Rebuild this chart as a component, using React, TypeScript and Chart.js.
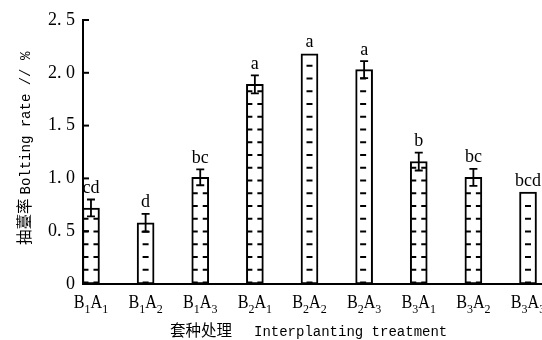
import React, { useEffect, useRef } from "react";
import { Chart, registerables } from "chart.js";

Chart.register(...registerables);

const categories = ["B1A1", "B1A2", "B1A3", "B2A1", "B2A2", "B2A3", "B3A1", "B3A2", "B3A3"];
const values = [0.72, 0.58, 1.01, 1.89, 2.18, 2.03, 1.16, 1.01, 0.87];
const errors = [0.08, 0.085, 0.075, 0.085, 0, 0.08, 0.085, 0.08, 0];
const letters = ["cd", "d", "bc", "a", "a", "a", "b", "bc", "bcd"];
const yTicks = [0, 0.5, 1.0, 1.5, 2.0, 2.5];
const hatchStyles = ["double", "center", "double", "double", "center", "left", "double", "double", "center"];

const SERIF = "'Liberation Serif', 'DejaVu Serif', serif";
const MONO = "'Liberation Mono', 'DejaVu Sans Mono', monospace";
const CJK = "'Noto Sans CJK SC', sans-serif";

const customPlugin = {
  id: "custom",
  afterDatasetsDraw(chart: any) {
    const ctx = chart.ctx;
    const y = chart.scales.y;
    const area = chart.chartArea;
    const meta = chart.getDatasetMeta(0);
    const base = y.getPixelForValue(0);
    ctx.save();
    // hatch
    ctx.strokeStyle = "#000";
    ctx.lineWidth = 2;
    meta.data.forEach((el: any, i: number) => {
      const half = el.width / 2;
      const left = el.x - half;
      const right = el.x + half;
      const top = el.y;
      const style = hatchStyles[i];
      for (let k = 0; ; k++) {
        const yy = base - 1.5 - k * 12.75;
        if (yy < top + 6) break;
        ctx.beginPath();
        if (style === "double") {
          ctx.moveTo(left + 1, yy);
          ctx.lineTo(left + 6, yy);
          ctx.moveTo(right - 6, yy);
          ctx.lineTo(right - 1, yy);
        } else if (style === "left") {
          ctx.moveTo(el.x - 4, yy);
          ctx.lineTo(el.x + 2, yy);
        } else {
          ctx.moveTo(el.x - 3, yy);
          ctx.lineTo(el.x + 3, yy);
        }
        ctx.stroke();
      }
    });
    // error bars
    ctx.lineWidth = 1.8;
    meta.data.forEach((el: any, i: number) => {
      const e = errors[i];
      if (!e) return;
      const yt = y.getPixelForValue(values[i] + e);
      const yb = y.getPixelForValue(values[i] - e);
      ctx.beginPath();
      ctx.moveTo(el.x, yt);
      ctx.lineTo(el.x, yb);
      ctx.moveTo(el.x - 4, yt);
      ctx.lineTo(el.x + 4, yt);
      ctx.moveTo(el.x - 4, yb);
      ctx.lineTo(el.x + 4, yb);
      ctx.stroke();
    });
    // letters
    ctx.fillStyle = "#000";
    ctx.font = `18px ${SERIF}`;
    ctx.textAlign = "center";
    ctx.textBaseline = "alphabetic";
    meta.data.forEach((el: any, i: number) => {
      const yy = y.getPixelForValue(values[i] + errors[i]) - 6.5;
      ctx.fillText(letters[i], el.x, yy);
    });
    // axes lines
    ctx.lineWidth = 2;
    ctx.beginPath();
    ctx.moveTo(area.left, base);
    ctx.lineTo(chart.width, base);
    ctx.stroke();
    // inward y ticks
    yTicks.forEach((t) => {
      const py = y.getPixelForValue(t);
      ctx.beginPath();
      ctx.moveTo(area.left, py);
      ctx.lineTo(area.left + 6, py);
      ctx.stroke();
    });
    // x labels with subscripts
    ctx.textAlign = "left";
    meta.data.forEach((el: any, i: number) => {
      const label = categories[i];
      const parts = label.split("").map((ch) => {
        const sub = /[0-9]/.test(ch);
        const font = sub ? `12px ${SERIF}` : `19px ${SERIF}`;
        ctx.font = font;
        return { ch, sub, font, w: ctx.measureText(ch).width * (sub ? 1 : 0.85) };
      });
      const total = parts.reduce((s, p) => s + p.w, 0);
      let x = el.x - total / 2;
      parts.forEach((p) => {
        ctx.font = p.font;
        if (p.sub) {
          ctx.fillText(p.ch, x, 313);
        } else {
          ctx.save();
          ctx.translate(x, 308);
          ctx.scale(0.85, 1);
          ctx.fillText(p.ch, 0, 0);
          ctx.restore();
        }
        x += p.w;
      });
    });
    // x title
    ctx.font = `15.5px ${CJK}`;
    ctx.fillText("套种处理", 170, 336);
    ctx.font = `14px ${MONO}`;
    ctx.fillText("Interplanting treatment", 254, 336);
    // y title
    ctx.save();
    ctx.translate(30, 245);
    ctx.rotate(-Math.PI / 2);
    ctx.font = `15.5px ${CJK}`;
    ctx.fillText("抽薹率", 0, 0);
    const cw = ctx.measureText("抽薹率").width;
    ctx.font = `14px ${MONO}`;
    ctx.fillText("Bolting rate // %", cw + 4, 0);
    ctx.restore();
    ctx.restore();
  },
};

export default function App() {
  const ref = useRef<HTMLCanvasElement>(null);
  useEffect(() => {
    document.body.style.margin = "0";
    const chart = new Chart(ref.current!, {
      type: "bar",
      data: {
        datasets: [
          {
            data: values.map((v, i) => ({ x: i, y: v })),
            backgroundColor: "#fff",
            borderColor: "#000",
            borderWidth: 2,
            borderSkipped: false,
            barThickness: 17,
          } as any,
        ],
      },
      options: {
        animation: false,
        responsive: false,
        maintainAspectRatio: false,
        layout: { padding: { left: 0, right: 0, top: 20, bottom: 56 } },
        plugins: { legend: { display: false }, tooltip: { enabled: false } },
        scales: {
          x: { type: "linear", min: -0.146, max: 8.256, display: false, offset: false },
          y: {
            min: 0,
            max: 2.5,
            afterFit: (s: any) => {
              s.width = 83;
            },
            afterBuildTicks: (s: any) => {
              s.ticks = yTicks.map((v) => ({ value: v }));
            },
            grid: { display: false, drawTicks: false },
            border: { display: true, color: "#000", width: 2 },
            ticks: {
              padding: 8,
              color: "#000",
              font: { family: SERIF, size: 18 },
              callback: (v: any) => (v === 0 ? "0" : Number(v).toFixed(1).replace(".", ". ")),
            },
          },
        },
      },
      plugins: [customPlugin],
    });
    return () => chart.destroy();
  }, []);
  return <canvas ref={ref} width={542} height={340} style={{ display: "block" }} />;
}
